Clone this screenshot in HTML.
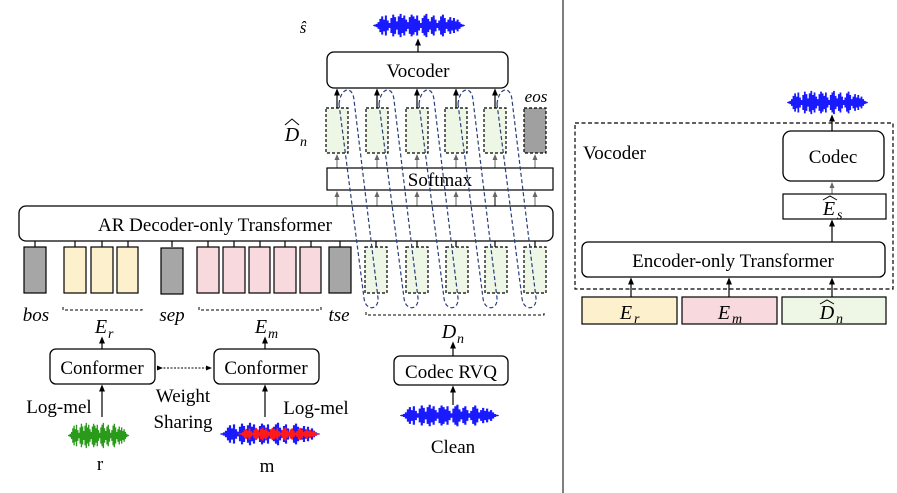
<!DOCTYPE html>
<html><head><meta charset="utf-8"><style>
html,body{margin:0;padding:0;background:#fff;}
svg{display:block;}
text{font-family:"Liberation Serif",serif;fill:#000;}
.it{font-style:italic;}
</style></head><body>
<svg width="897" height="493" viewBox="0 0 897 493" xmlns="http://www.w3.org/2000/svg">
<defs>
<marker id="ah" markerWidth="6" markerHeight="6" refX="3" refY="3" orient="auto"><path d="M0,0.5 L6,3 L0,5.5 Z" fill="#000"/></marker>
<marker id="ahg" markerWidth="6" markerHeight="6" refX="3" refY="3" orient="auto"><path d="M0,0.5 L6,3 L0,5.5 Z" fill="#666"/></marker>
<symbol id="wave" viewBox="0 0 100 30" preserveAspectRatio="none">
<path fill="none" stroke="currentColor" stroke-width="2.2" d="M2,14V16 M4,13V17 M6,11V19 M8,7V23 M10,4V26 M12,8V22 M14,3V27 M16,9V21 M18,12V18 M20,6V24 M22,2V28 M24,5V25 M26,10V20 M28,4V26 M30,1V29 M32,6V24 M34,3V27 M36,8V22 M38,11V19 M40,5V25 M42,2V28 M44,4V26 M46,7V23 M48,3V27 M50,9V21 M52,12V18 M54,6V24 M56,3V27 M58,1V29 M60,7V23 M62,10V20 M64,5V25 M66,3V27 M68,8V22 M70,12V18 M72,9V21 M74,4V26 M76,2V28 M78,6V24 M80,11V19 M82,8V22 M84,5V25 M86,9V21 M88,6V24 M90,10V20 M92,8V22 M94,11V19 M96,13V17 M98,14V16"/>
<path fill="none" stroke="currentColor" stroke-width="1" d="M0,15H100"/>
</symbol>
</defs>

<line x1="563" y1="0" x2="563" y2="493" stroke="#555" stroke-width="1.5"/>

<text x="303" y="33" class="it" font-size="17" text-anchor="middle">ŝ</text>
<use href="#wave" x="373" y="13" width="92" height="25" style="color:#1a1aff"/>
<line x1="418" y1="52" x2="418" y2="42" stroke="#000" stroke-width="1.2" marker-end="url(#ah)"/>

<rect x="327" y="52" width="181" height="36" rx="7" fill="#fff" stroke="#000" stroke-width="1.3"/>
<text x="418" y="77" font-size="19" text-anchor="middle">Vocoder</text>

<text x="292" y="141" class="it" font-size="20" text-anchor="middle">D</text>
<text x="300" y="146" class="it" font-size="14">n</text>
<path d="M285,125 L292,119 L299,125" fill="none" stroke="#000" stroke-width="1"/>
<text x="536" y="102" class="it" font-size="17" text-anchor="middle">eos</text>

<g stroke="#000" stroke-width="1.2" stroke-dasharray="3,2" fill="#eef6e6">
<rect x="326" y="108" width="22" height="45"/>
<rect x="366" y="108" width="22" height="45"/>
<rect x="406" y="108" width="22" height="45"/>
<rect x="445" y="108" width="22" height="45"/>
<rect x="484" y="108" width="22" height="45"/>
<rect x="524" y="108" width="22" height="45" fill="#a0a0a0"/>
</g>
<g stroke="#000" stroke-width="1.2" marker-end="url(#ah)">
<line x1="337" y1="108" x2="337" y2="92"/>
<line x1="377" y1="108" x2="377" y2="92"/>
<line x1="417" y1="108" x2="417" y2="92"/>
<line x1="456" y1="108" x2="456" y2="92"/>
<line x1="495" y1="108" x2="495" y2="92"/>
</g>
<g stroke="#666" stroke-width="1" marker-end="url(#ahg)">
<line x1="337" y1="168" x2="337" y2="157"/>
<line x1="377" y1="168" x2="377" y2="157"/>
<line x1="417" y1="168" x2="417" y2="157"/>
<line x1="456" y1="168" x2="456" y2="157"/>
<line x1="495" y1="168" x2="495" y2="157"/>
<line x1="535" y1="168" x2="535" y2="157"/>
</g>
<rect x="327" y="168" width="226" height="22" fill="#fff" stroke="#000" stroke-width="1.2"/>
<text x="440" y="186" font-size="19" text-anchor="middle">Softmax</text>
<g stroke="#666" stroke-width="1" marker-end="url(#ahg)">
<line x1="337" y1="206" x2="337" y2="194"/>
<line x1="377" y1="206" x2="377" y2="194"/>
<line x1="417" y1="206" x2="417" y2="194"/>
<line x1="456" y1="206" x2="456" y2="194"/>
<line x1="495" y1="206" x2="495" y2="194" stroke="#000"/>
<line x1="535" y1="206" x2="535" y2="194"/>
</g>

<rect x="19" y="206" width="534" height="35" rx="7" fill="#fff" stroke="#000" stroke-width="1.3"/>
<text x="215" y="231" font-size="19" text-anchor="middle">AR Decoder-only  Transformer</text>

<g stroke="#000" stroke-width="1.2">
<line x1="35" y1="241" x2="35" y2="247"/><rect x="24" y="247" width="22" height="46" fill="#a6a6a6"/>
<line x1="75" y1="241" x2="75" y2="247"/><rect x="64" y="247" width="22" height="46" fill="#fdf0cc"/>
<line x1="102" y1="241" x2="102" y2="247"/><rect x="91" y="247" width="22" height="46" fill="#fdf0cc"/>
<line x1="128" y1="241" x2="128" y2="247"/><rect x="117" y="247" width="21" height="46" fill="#fdf0cc"/>
<line x1="172" y1="241" x2="172" y2="247"/><rect x="161" y="248" width="22" height="46" fill="#a6a6a6"/>
<line x1="208" y1="241" x2="208" y2="247"/><rect x="197" y="247" width="22" height="46" fill="#f8d9de"/>
<line x1="234" y1="241" x2="234" y2="247"/><rect x="223" y="247" width="22" height="46" fill="#f8d9de"/>
<line x1="260" y1="241" x2="260" y2="247"/><rect x="249" y="247" width="21" height="46" fill="#f8d9de"/>
<line x1="285" y1="241" x2="285" y2="247"/><rect x="274" y="247" width="22" height="46" fill="#f8d9de"/>
<line x1="311" y1="241" x2="311" y2="247"/><rect x="300" y="247" width="21" height="46" fill="#f8d9de"/>
<line x1="340" y1="241" x2="340" y2="247"/><rect x="329" y="247" width="22" height="46" fill="#a6a6a6"/>
<line x1="376" y1="241" x2="376" y2="247"/>
<line x1="417" y1="241" x2="417" y2="247"/>
<line x1="456" y1="241" x2="456" y2="247"/>
<line x1="495" y1="241" x2="495" y2="247"/>
<line x1="535" y1="241" x2="535" y2="247"/>
</g>
<g stroke="#000" stroke-width="1.2" stroke-dasharray="3,2" fill="#eef6e6">
<rect x="365" y="247" width="22" height="46"/>
<rect x="406" y="247" width="22" height="46"/>
<rect x="446" y="247" width="22" height="46"/>
<rect x="485" y="247" width="22" height="46"/>
<rect x="524" y="247" width="22" height="46"/>
</g>

<g fill="none" stroke="#2a3f7a" stroke-width="1.2" stroke-dasharray="4,2.5">
<path d="M339,104 C341,86 353,86 354,100 L378,298 C379,311 365,311 364,298 Z"/>
<path d="M379,104 C381,86 393,86 394,100 L418,298 C419,311 405,311 404,298 Z"/>
<path d="M419,104 C421,86 433,86 434,100 L458,298 C459,311 445,311 444,298 Z"/>
<path d="M458,104 C460,86 472,86 473,100 L497,298 C498,311 484,311 483,298 Z"/>
<path d="M497,104 C499,86 511,86 512,100 L536,298 C537,311 523,311 522,298 Z"/>
</g>

<text x="36" y="321" class="it" font-size="19" text-anchor="middle">bos</text>
<text x="172" y="321" class="it" font-size="19" text-anchor="middle">sep</text>
<text x="339" y="321" class="it" font-size="19" text-anchor="middle">tse</text>
<g fill="none" stroke="#000" stroke-width="1" stroke-dasharray="3,2">
<path d="M63,307 V310 H142 V307"/>
<path d="M199,307 V310 H321 V307"/>
<path d="M366,312 V315 H544 V312"/>
</g>
<text x="101" y="333" class="it" font-size="20" text-anchor="middle">E</text><text x="108" y="338" class="it" font-size="14">r</text>
<text x="261" y="333" class="it" font-size="20" text-anchor="middle">E</text><text x="268" y="338" class="it" font-size="14">m</text>
<text x="449" y="338" class="it" font-size="20" text-anchor="middle">D</text><text x="457" y="343" class="it" font-size="14">n</text>

<g stroke="#000" stroke-width="1.2" marker-end="url(#ah)">
<line x1="102" y1="349" x2="102" y2="340"/>
<line x1="265" y1="349" x2="265" y2="340"/>
<line x1="453" y1="356" x2="453" y2="345"/>
<line x1="102" y1="417" x2="102" y2="388"/>
<line x1="265" y1="417" x2="265" y2="388"/>
<line x1="453" y1="405" x2="453" y2="389"/>
</g>

<rect x="50" y="349" width="105" height="35" rx="6" fill="#fff" stroke="#000" stroke-width="1.3"/>
<text x="102" y="374" font-size="19" text-anchor="middle">Conformer</text>
<rect x="214" y="349" width="105" height="35" rx="6" fill="#fff" stroke="#000" stroke-width="1.3"/>
<text x="266" y="374" font-size="19" text-anchor="middle">Conformer</text>
<line x1="160" y1="368" x2="209" y2="368" stroke="#000" stroke-width="1" stroke-dasharray="2,1.5" marker-start="url(#ah)" marker-end="url(#ah)"/>
<rect x="394" y="356" width="114" height="29" rx="6" fill="#fff" stroke="#000" stroke-width="1.3"/>
<text x="451" y="378" font-size="19" text-anchor="middle">Codec RVQ</text>

<text x="59" y="413" font-size="19" text-anchor="middle">Log-mel</text>
<text x="183" y="402" font-size="19" text-anchor="middle">Weight</text>
<text x="183" y="428" font-size="19" text-anchor="middle">Sharing</text>
<text x="316" y="414" font-size="19" text-anchor="middle">Log-mel</text>

<use href="#wave" x="68" y="422" width="61" height="27" style="color:#2a9a1a"/>
<use href="#wave" x="220" y="422" width="100" height="24" style="color:#1a1aff"/>
<use href="#wave" x="238" y="427" width="82" height="14" style="color:#ff1a1a"/>
<use href="#wave" x="400" y="404" width="99" height="23" style="color:#1a1aff"/>

<text x="100" y="470" font-size="19" text-anchor="middle">r</text>
<text x="267" y="472" font-size="19" text-anchor="middle">m</text>
<text x="453" y="453" font-size="19" text-anchor="middle">Clean</text>

<use href="#wave" x="787" y="90" width="81" height="25" style="color:#1a1aff"/>
<rect x="575" y="123" width="318" height="166" fill="none" stroke="#000" stroke-width="1.2" stroke-dasharray="4,2.5"/>
<text x="583" y="159" font-size="19">Vocoder</text>
<line x1="832" y1="131" x2="832" y2="118" stroke="#000" stroke-width="1.2" marker-end="url(#ah)"/>
<rect x="783" y="131" width="101" height="50" rx="8" fill="#fff" stroke="#000" stroke-width="1.3"/>
<text x="833" y="163" font-size="19" text-anchor="middle">Codec</text>
<line x1="832" y1="194" x2="832" y2="185" stroke="#666" stroke-width="1" marker-end="url(#ahg)"/>
<rect x="783" y="194" width="103" height="25" fill="#fff" stroke="#000" stroke-width="1.2"/>
<text x="829" y="215" class="it" font-size="20" text-anchor="middle">E</text><text x="837" y="219" class="it" font-size="14">s</text>
<path d="M823,200 L830,196 L837,200" fill="none" stroke="#000" stroke-width="1"/>
<line x1="832" y1="242" x2="832" y2="223" stroke="#000" stroke-width="1.2" marker-end="url(#ah)"/>
<rect x="582" y="242" width="303" height="35" rx="6" fill="#fff" stroke="#000" stroke-width="1.3"/>
<text x="733" y="267" font-size="19" text-anchor="middle">Encoder-only  Transformer</text>
<g stroke="#000" stroke-width="1.2" marker-end="url(#ah)">
<line x1="631" y1="297" x2="631" y2="281"/>
<line x1="729" y1="297" x2="729" y2="281"/>
<line x1="832" y1="297" x2="832" y2="281"/>
</g>
<rect x="582" y="297" width="95" height="27" fill="#fdf0cc" stroke="#000" stroke-width="1.2"/>
<rect x="682" y="297" width="95" height="27" fill="#f8d9de" stroke="#000" stroke-width="1.2"/>
<rect x="782" y="297" width="104" height="27" fill="#eef6e6" stroke="#000" stroke-width="1.2"/>
<text x="626" y="319" class="it" font-size="20" text-anchor="middle">E</text><text x="634" y="323" class="it" font-size="14">r</text>
<text x="724" y="319" class="it" font-size="20" text-anchor="middle">E</text><text x="732" y="323" class="it" font-size="14">m</text>
<text x="827" y="319" class="it" font-size="20" text-anchor="middle">D</text><text x="836" y="323" class="it" font-size="14">n</text>
<path d="M820,304 L827,300 L834,304" fill="none" stroke="#000" stroke-width="1"/>
</svg>
</body></html>
